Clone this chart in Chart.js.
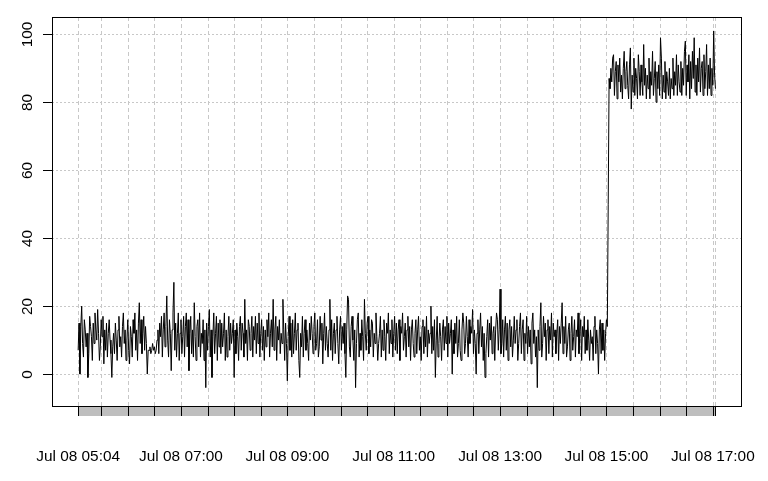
<!DOCTYPE html>
<html>
<head>
<meta charset="utf-8">
<script src="https://cdn.jsdelivr.net/npm/chart.js@4/dist/chart.umd.min.js"></script>
<style>
  html, body { margin: 0; padding: 0; background: #fff; }
  canvas { display: block; }
</style>
</head>
<body>
<canvas id="chart" width="768" height="481"></canvas>
<script>
// minutes after 05:04, one value per minute
const lowValues = [
  7,15,0,14,20,9,5,16,13,8,12,-1,6,17,14,11,4,15,9,18,
  13,10,19,12,4,8,16,11,17,3,13,7,15,5,12,16,10,6,-1,8,
  12,6,15,10,4,13,17,8,11,5,14,18,9,13,4,10,16,7,3,14,
  11,5,16,12,18,7,13,4,15,21,9,16,6,12,17,7,14,9,0,7,
  7,8,6,7,9,7,8,6,7,10,13,6,15,11,17,5,13,18,8,14,
  23,10,5,16,12,1,13,18,27,7,15,5,12,18,4,12,16,6,11,17,
  5,14,18,8,16,1,12,17,6,13,5,21,11,4,14,16,8,18,5,12,
  9,16,4,13,-4,15,7,14,19,5,13,-1,11,18,6,12,17,4,15,8,
  16,6,15,8,12,18,4,13,5,11,17,7,15,9,12,16,-1,13,6,15,
  11,4,14,17,7,15,12,5,22,9,13,4,16,14,7,12,17,5,14,10,
  17,6,15,9,18,5,12,16,7,14,4,13,8,16,11,18,5,12,16,8,
  22,7,13,17,4,14,10,16,6,12,9,22,13,4,15,9,-2,11,17,7,
  15,5,16,6,12,18,7,13,15,4,-1,12,8,17,5,12,16,7,13,9,
  4,15,10,17,12,6,14,18,7,9,16,5,8,17,10,15,3,12,18,7,
  14,9,5,13,22,7,16,4,12,15,6,13,17,9,3,13,17,7,14,9,
  15,6,-1,13,23,22,8,5,14,17,10,4,13,-4,9,16,18,5,12,7,
  16,11,4,22,12,7,15,17,6,13,8,16,15,5,12,9,18,11,4,9,
  12,17,5,13,7,16,11,4,15,12,18,6,13,9,16,5,12,17,7,15,
  6,13,16,4,14,12,18,7,11,15,5,13,17,8,14,4,13,16,9,5,
  12,16,6,13,17,7,11,4,14,16,6,14,8,17,5,13,9,12,20,6,
  14,7,16,-1,10,17,5,9,15,11,4,13,16,7,14,9,17,5,15,9,
  12,16,0,13,6,15,9,17,5,9,16,7,4,13,18,15,6,9,17,11,
  5,16,9,14,12,19,6,13,9,0,12,16,6,13,18,8,14,4,12,-1,
  6,11,16,5,15,10,17,6,12,14,4,13,18,16,7,13,25,6,9,16,
  5,13,17,7,15,4,13,16,8,14,5,10,17,9,13,16,4,9,14,18,
  6,13,16,4,12,9,17,6,14,8,13,3,15,18,9,13,5,11,-4,13,
  7,14,21,5,9,17,11,15,4,13,16,6,14,10,18,5,15,11,13,6,
  12,16,4,14,9,15,21,6,14,9,17,5,8,13,15,4,12,17,7,11,
  16,5,13,11,18,6,12,16,4,14,11,17,6,13,7,16,10,4,13,9,
  11,4,14,17,6,13,9,0,13,16,6,15,7,13,4,12,16,14
];
const stepValues = [50];
const highValues = [
  87,
  84,90,86,93,94,82,89,92,81,91,86,93,83,88,81,90,95,84,89,92,
  85,81,91,96,78,88,83,93,82,90,87,81,94,89,82,91,86,82,97,85,
  90,81,88,84,93,81,89,85,95,82,87,92,80,89,84,91,82,99,93,81,
  88,83,92,81,89,86,82,90,81,87,84,93,82,89,85,94,82,91,86,83,
  92,82,90,85,95,98,82,91,86,94,81,92,84,95,87,99,83,91,82,93,
  86,96,83,90,92,82,94,84,89,97,82,91,84,93,82,90,85,101,88,84
];

const barTicks = [0,26,56,86,116,146,176,206,236,266,296,326,356,386,416,446,476,506,536,566,596,626,656,686,716,719];
const labelMinutes = [0,116,236,356,476,596,716];
const xLabels = ['Jul 08 05:04','Jul 08 07:00','Jul 08 09:00','Jul 08 11:00','Jul 08 13:00','Jul 08 15:00','Jul 08 17:00'];
const yTicks = [0,20,40,60,80,100];

const values = lowValues.concat(stepValues, highValues);
const points = values.map((v, i) => ({ x: i, y: v }));

const FONT = '15.4px "Liberation Sans", Arial, sans-serif';

const rFrame = {
  id: 'rFrame',
  beforeDatasetsDraw(chart) {
    const { ctx, chartArea: a, scales: { x, y } } = chart;
    ctx.save();
    ctx.strokeStyle = '#c8c8c8';
    ctx.lineWidth = 1;
    // horizontal dotted grid
    ctx.setLineDash([2, 2]);
    yTicks.forEach(t => {
      const py = Math.round(y.getPixelForValue(t)) + 0.5;
      ctx.beginPath();
      ctx.moveTo(a.left, py);
      ctx.lineTo(a.right, py);
      ctx.stroke();
    });
    // vertical dashed grid
    ctx.setLineDash([4, 3]);
    barTicks.forEach(t => {
      const px = Math.round(x.getPixelForValue(t)) + 0.5;
      ctx.beginPath();
      ctx.moveTo(px, a.top);
      ctx.lineTo(px, a.bottom);
      ctx.stroke();
    });
    ctx.restore();
  },
  afterDatasetsDraw(chart) {
    const { ctx, chartArea: a, scales: { x, y } } = chart;
    ctx.save();
    ctx.strokeStyle = '#000';
    ctx.lineWidth = 1;
    ctx.setLineDash([]);
    ctx.strokeRect(a.left + 0.5, a.top + 0.5, a.right - a.left, a.bottom - a.top);

    // y ticks and rotated labels
    ctx.fillStyle = '#000';
    ctx.font = FONT;
    ctx.textAlign = 'center';
    ctx.textBaseline = 'alphabetic';
    yTicks.forEach(t => {
      const py = Math.round(y.getPixelForValue(t)) + 0.5;
      ctx.beginPath();
      ctx.moveTo(a.left - 9, py);
      ctx.lineTo(a.left, py);
      ctx.stroke();
      ctx.save();
      ctx.translate(31.5, py);
      ctx.rotate(-Math.PI / 2);
      ctx.fillText(String(t), 0, 0);
      ctx.restore();
    });

    // grey time bar under the plot
    const x0 = x.getPixelForValue(barTicks[0]);
    const x1 = x.getPixelForValue(barTicks[barTicks.length - 1]);
    const barTop = a.bottom + 1;
    const barH = 9;
    ctx.fillStyle = '#bebebe';
    ctx.fillRect(x0, barTop, x1 - x0, barH);
    barTicks.forEach(t => {
      const px = Math.round(x.getPixelForValue(t)) + 0.5;
      ctx.beginPath();
      ctx.moveTo(px, barTop);
      ctx.lineTo(px, barTop + barH);
      ctx.stroke();
    });

    // x labels
    ctx.fillStyle = '#000';
    labelMinutes.forEach((m, i) => {
      ctx.fillText(xLabels[i], x.getPixelForValue(m), 460.5);
    });
    ctx.restore();
  }
};

new Chart(document.getElementById('chart'), {
  type: 'line',
  data: {
    datasets: [{
      data: points,
      borderColor: '#000',
      borderWidth: 1,
      pointRadius: 0,
      tension: 0,
      fill: false
    }]
  },
  options: {
    responsive: false,
    animation: false,
    devicePixelRatio: 1,
    layout: { padding: { left: 52, right: 27, top: 17, bottom: 75 } },
    plugins: { legend: { display: false }, tooltip: { enabled: false } },
    scales: {
      x: { type: 'linear', min: -29.5, max: 747.8, display: false },
      y: { type: 'linear', min: -9.4, max: 105.1, display: false }
    }
  },
  plugins: [rFrame]
});
</script>
</body>
</html>
